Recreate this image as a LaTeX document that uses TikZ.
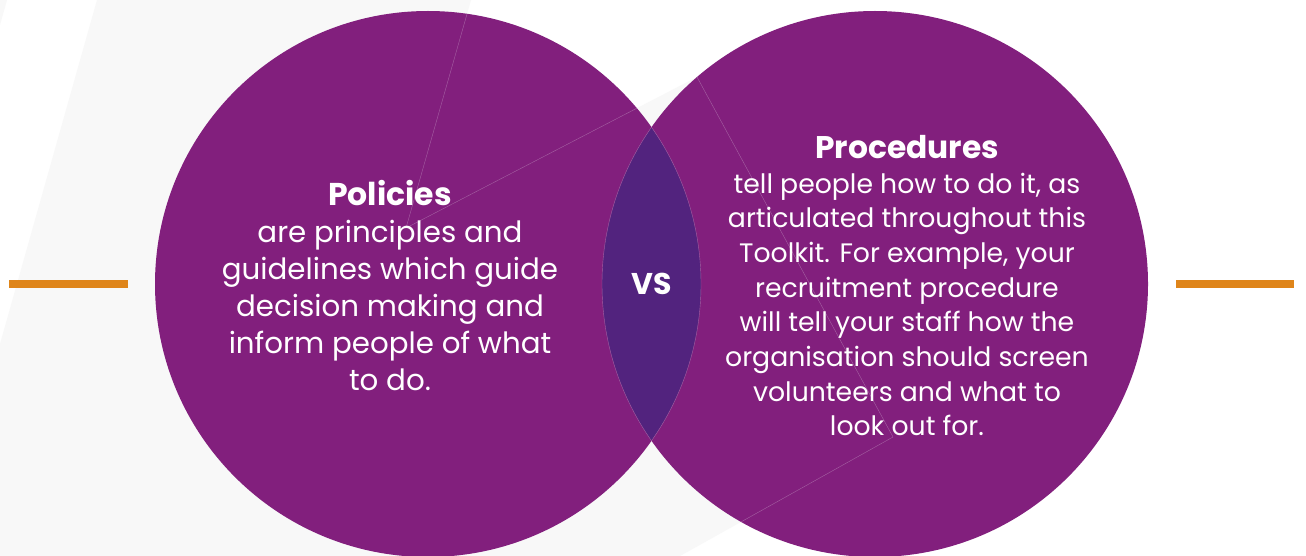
\documentclass[tikz,border=0pt]{standalone}
\usepackage{fontspec}
\setmainfont{Poppins}
\usetikzlibrary{positioning, calc}
\definecolor{plum}{HTML}{821F7D}
\definecolor{grape}{HTML}{52237E}
\definecolor{amber}{HTML}{DF851A}
\definecolor{haze}{HTML}{F8F8F8}
\definecolor{seam}{HTML}{A561A3}

\begin{document}
\begin{tikzpicture}[
    x=1pt, y=-1pt,
    disc/.style={circle, fill=plum, minimum size=546pt, inner sep=0pt},
    seamline/.style={draw=seam, line width=0.4pt},
    bar/.style={draw=amber, line width=7.7pt},
    bigtxt/.style={text=white, align=center, inner sep=0pt, anchor=north},
]
\useasboundingbox (0,0) rectangle (1306,556);
\fill[white] (0,0) rectangle (1306,556);

% grey backdrop
\coordinate (k1) at (471,0);
\coordinate (k2) at (406,228);
\coordinate (k3) at (697,77);
\coordinate (k4) at (893,437);
\coordinate (k5) at (680,556);
\fill[haze] (0,0) -- (7,0) -- (0,25) -- cycle;
\fill[haze] (97,0) -- (k1) -- (k2) -- (k3) -- (k4) -- (k5) -- (0,556) -- (0,344) -- cycle;

\node[disc] (pol) at (428,284) {};
\node[disc] (proc) at (875,284) {};

% overlap
\begin{scope}
    \clip (pol.center) circle[radius=273pt];
    \fill[grape] (proc.center) circle[radius=273pt];
    \draw[seamline] (proc.center) circle[radius=273pt];
    \draw[seamline] (k1) -- (k2) -- (k3);
\end{scope}
\begin{scope}
    \clip (proc.center) circle[radius=273pt];
    \draw[seamline] (pol.center) circle[radius=273pt];
    \draw[seamline] (k3) -- (k4) -- (k5);
\end{scope}

\coordinate (la) at (9,284);
\coordinate (lb) at (128,284);
\coordinate (ra) at (1176,284);
\coordinate (rb) at (1294,284);
\draw[bar] (la) -- (lb);
\draw[bar] (ra) -- (rb);

\node[bigtxt, font=\fontsize{29.3}{37}\selectfont] (poltxt) at (390,180)
    {{\fontsize{31.5}{37}\selectfont\bfseries Policies}\\ are principles and\\
     guidelines which guide\\ decision making and\\ inform people of what\\ to do.};
\node[bigtxt, font=\fontsize{26.7}{34.7}\selectfont] (proctxt) at (907,135)
    {{\fontsize{31.3}{34.7}\selectfont\bfseries Procedures}\\ tell people how to do it, as\\
     articulated throughout this\\ Toolkit. For example, your\\ recruitment procedure\\
     will tell your staff how the\\ organisation should screen\\ volunteers and what to\\
     look out for.};
\node[text=white, font=\fontsize{30}{36}\selectfont\bfseries]
    (vs) at ($(pol.center)!0.5!(proc.center)$) {VS};
\end{tikzpicture}
\end{document}
